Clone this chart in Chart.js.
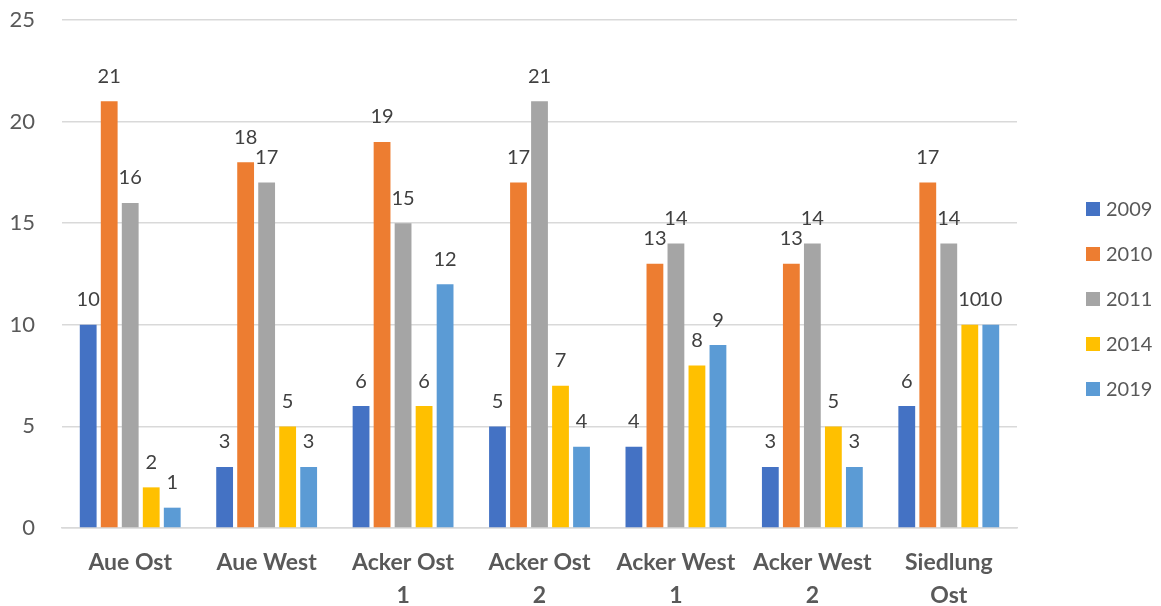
<!DOCTYPE html>
<html>
<head>
<meta charset="utf-8">
<script src="https://cdn.jsdelivr.net/npm/chart.js@4/dist/chart.umd.min.js"></script>
<style>
  html, body { margin: 0; padding: 0; background: #fff; }
  #wrap { width: 1161px; height: 606px; }
</style>
</head>
<body>
<div id="wrap"><canvas id="c" width="1161" height="606"></canvas></div>
<script>
// Districts (wrapped the way they are printed under the axis)
const categories = [
  ["Aue Ost"],
  ["Aue West"],
  ["Acker Ost", "1"],
  ["Acker Ost", "2"],
  ["Acker West", "1"],
  ["Acker West", "2"],
  ["Siedlung", "Ost"]
];

// Survey years
const years = ["2009", "2010", "2011", "2014", "2019"];

// Counts per year, one value per district
const values2009 = [10, 3, 6, 5, 4, 3, 6];
const values2010 = [21, 18, 19, 17, 13, 13, 17];
const values2011 = [16, 17, 15, 21, 14, 14, 14];
const values2014 = [2, 5, 6, 7, 8, 5, 10];
const values2019 = [1, 3, 12, 4, 9, 3, 10];

const yTicks = [0, 5, 10, 15, 20, 25];

const seriesValues = [values2009, values2010, values2011, values2014, values2019];
const seriesColors = ["#4472C4", "#ED7D31", "#A5A5A5", "#FFC000", "#5B9BD5"];

const FONT = "Lato, 'Open Sans', sans-serif";
const TEXT = "#595959";

// Writes each bar's value above it
const valueLabels = {
  id: 'valueLabels',
  afterDatasetsDraw(chart) {
    const ctx = chart.ctx;
    ctx.save();
    ctx.font = "20px " + FONT;
    ctx.fillStyle = "#404040";
    ctx.textAlign = "center";
    ctx.textBaseline = "middle";
    chart.data.datasets.forEach((ds, i) => {
      const meta = chart.getDatasetMeta(i);
      meta.data.forEach((bar, j) => {
        ctx.fillText(String(ds.data[j]), bar.x, bar.y - 25);
      });
    });
    ctx.restore();
  }
};

// Year key in the space reserved right of the plot
const sideLegend = {
  id: 'sideLegend',
  afterDraw(chart) {
    const ctx = chart.ctx;
    const area = chart.chartArea;
    const x0 = area.right + 69;
    const step = 45;
    const yMid = (area.top + area.bottom) / 2 + 25;
    ctx.save();
    ctx.font = "20px " + FONT;
    ctx.textBaseline = "middle";
    ctx.textAlign = "left";
    chart.data.datasets.forEach((ds, i) => {
      const y = yMid + (i - (chart.data.datasets.length - 1) / 2) * step;
      ctx.fillStyle = ds.backgroundColor;
      ctx.fillRect(x0, y - 7, 14, 14);
      ctx.fillStyle = TEXT;
      ctx.fillText(ds.label, x0 + 20, y + 1);
    });
    ctx.restore();
  }
};

new Chart(document.getElementById('c'), {
  type: 'bar',
  data: {
    labels: categories,
    datasets: years.map((y, i) => ({
      label: y,
      data: seriesValues[i],
      backgroundColor: seriesColors[i],
      borderWidth: 0,
      barPercentage: 0.8,
      categoryPercentage: 0.77
    }))
  },
  options: {
    responsive: false,
    animation: false,
    layout: { padding: { top: 20, left: 0, right: 144, bottom: 0 } },
    plugins: {
      legend: { display: false },
      tooltip: { enabled: false }
    },
    scales: {
      x: {
        grid: { display: false, drawTicks: false },
        border: { display: true, color: "#D9D9D9", width: 1.5 },
        ticks: {
          color: TEXT,
          padding: 18,
          maxRotation: 0,
          autoSkip: false,
          font: { family: FONT, size: 23, weight: 'bold', lineHeight: 1.43 }
        },
        afterFit(axis) {
          axis.height = 78;
          axis.paddingLeft = 0;
          axis.paddingRight = 0;
        }
      },
      y: {
        min: 0,
        max: 25,
        afterBuildTicks(axis) { axis.ticks = yTicks.map(v => ({ value: v })); },
        grid: { color: "#D9D9D9", lineWidth: 1.5, drawTicks: false },
        border: { display: false },
        ticks: {
          color: TEXT,
          padding: 27,
          font: { family: FONT, size: 22 }
        },
        afterFit(axis) {
          axis.width = 62;
          axis.paddingTop = 0;
          axis.paddingBottom = 0;
        }
      }
    }
  },
  plugins: [valueLabels, sideLegend]
});
</script>
</body>
</html>
